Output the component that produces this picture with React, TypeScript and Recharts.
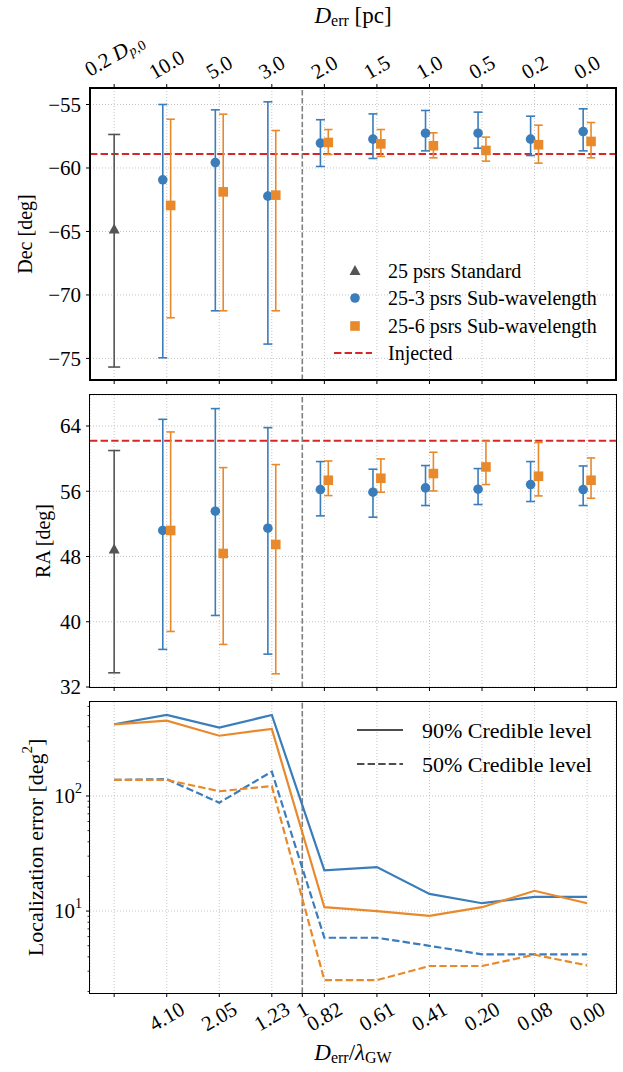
import React from 'react'
import {
  CartesianGrid,
  ComposedChart,
  ErrorBar,
  Legend,
  Line,
  ReferenceLine,
  Scatter,
  XAxis,
  YAxis,
} from 'recharts'

const FONT = '"Liberation Serif", "Times New Roman", serif'
const BLUE = '#3a7dba'
const ORANGE = '#e8892b'
const GRAY = '#555555'
const RED = '#d62728'
const GRID = '#b8b8b8'
const FS_TICK = 21

// x positions / tick labels
const xTicks = [0, 1, 2, 3, 4, 5, 6, 7, 8, 9]
const xDomain: [number, number] = [-0.46, 9.55]
const topTickLabels = ['0.2 D_{p,0}', '10.0', '5.0', '3.0', '2.0', '1.5', '1.0', '0.5', '0.2', '0.0']
const bottomTickLabels = ['', '4.10', '2.05', '1.23', '0.82', '0.61', '0.41', '0.20', '0.08', '0.00']
const boundaryX = 3.58
const boundaryLabel = '1'

// Dec panel (x = 0 standard, x = 1..9 sub-wavelength)
const injectedDec = -58.9
const stdDec = -64.84
const stdDecLo = -75.68
const stdDecHi = -57.36
const blueDec = [-60.93, -59.57, -62.22, -58.04, -57.73, -57.26, -57.26, -57.73, -57.13]
const blueDecHi = [-55.0, -55.42, -54.79, -56.2, -55.74, -55.47, -55.6, -55.92, -55.34]
const blueDecLo = [-74.95, -71.25, -73.87, -59.88, -59.25, -58.65, -58.44, -59.02, -58.65]
const orangeDec = [-62.95, -61.88, -62.14, -57.99, -58.1, -58.25, -58.62, -58.17, -57.91]
const orangeDecHi = [-56.16, -55.76, -57.05, -56.97, -56.97, -57.23, -57.57, -56.63, -56.42]
const orangeDecLo = [-71.8, -71.25, -71.25, -58.94, -59.09, -59.2, -59.46, -59.62, -59.2]
const decTicks = [-75, -70, -65, -60, -55]

// RA panel
const injectedRa = 62.2
const stdRa = 48.86
const stdRaLo = 33.74
const stdRaHi = 60.99
const blueRa = [51.19, 53.55, 51.47, 56.21, 55.88, 56.41, 56.25, 56.82, 56.21]
const blueRaHi = [64.82, 66.13, 63.8, 59.64, 58.7, 59.15, 58.78, 59.64, 59.1]
const blueRaLo = [36.61, 40.77, 36.03, 52.98, 52.82, 54.25, 54.37, 54.74, 54.25]
const orangeRa = [51.19, 48.37, 49.47, 57.35, 57.59, 58.17, 58.98, 57.84, 57.35]
const orangeRaHi = [63.27, 58.9, 59.27, 59.71, 59.96, 60.78, 62.13, 61.97, 60.08]
const orangeRaLo = [38.81, 37.22, 33.62, 55.47, 55.88, 56.04, 56.82, 55.43, 55.14]
const raTicks = [32, 40, 48, 56, 64]

// localization error [deg^2], x = 0..9
const blue90 = [420, 506, 393, 506, 22.6, 24.1, 14.1, 11.7, 13.3, 13.3]
const orange90 = [420, 452, 334, 383, 10.8, 10.0, 9.1, 10.8, 15.0, 11.7]
const blue50 = [138, 140, 87.5, 163, 5.86, 5.86, 4.99, 4.2, 4.2, 4.2]
const orange50 = [138, 138, 110, 122, 2.51, 2.51, 3.33, 3.33, 4.17, 3.37]
const logTicks = [2, 3, 4, 5, 6, 7, 8, 9, 10, 20, 30, 40, 50, 60, 70, 80, 90, 100, 200, 300, 400, 500, 600]

const pt = (v: number, lo: number, hi: number, x: number) => ({ x, y: v, err: [v - lo, hi - v] })
const series = (vals: number[], lo: number[], hi: number[], off: number) =>
  vals.map((v, i) => pt(v, lo[i], hi[i], i + 1 + off))

const decStdData = [pt(stdDec, stdDecLo, stdDecHi, 0)]
const decBlueData = series(blueDec, blueDecLo, blueDecHi, -0.075)
const decOrangeData = series(orangeDec, orangeDecLo, orangeDecHi, 0.075)
const raStdData = [pt(stdRa, stdRaLo, stdRaHi, 0)]
const raBlueData = series(blueRa, blueRaLo, blueRaHi, -0.075)
const raOrangeData = series(orangeRa, orangeRaLo, orangeRaHi, 0.075)
const locRows = xTicks.map((x, i) => ({ x, b90: blue90[i], o90: orange90[i], b50: blue50[i], o50: orange50[i] }))

const minus = (v: number) => String(v).replace('-', '\u2212')

const estWidth = (s: string, fs: number) => {
  let w = 0
  for (const ch of s) w += ch === '.' || ch === ' ' ? 0.25 : 0.5
  return w * fs
}

const Circle = (p: any) => <circle cx={p.cx} cy={p.cy} r={4.8} fill={BLUE} />
const Square = (p: any) => <rect x={p.cx - 4.8} y={p.cy - 4.8} width={9.6} height={9.6} fill={ORANGE} />
const Tri = (p: any) => (
  <polygon points={`${p.cx},${p.cy - 6} ${p.cx - 5.5},${p.cy + 4} ${p.cx + 5.5},${p.cy + 4}`} fill={GRAY} />
)

const EmptyTick = () => <g />

function TopTick({ x, y, payload }: any) {
  const label = topTickLabels[payload.value] ?? ''
  const special = label.includes('D_')
  const w = special ? FS_TICK * 3.6 : estWidth(label, FS_TICK)
  const cy = y - (w * 0.5 + FS_TICK * 0.6) / 2
  return (
    <text x={x} y={cy} textAnchor="middle" dominantBaseline="central" fontSize={FS_TICK} fill="#000"
      transform={`rotate(-30 ${x} ${cy})`}>
      {special ? (
        <>
          <tspan>0.2 </tspan>
          <tspan fontStyle="italic">D</tspan>
          <tspan fontSize={14} dy={5} fontStyle="italic">p</tspan>
          <tspan fontSize={14}>,0</tspan>
        </>
      ) : label}
    </text>
  )
}

function BottomTick({ x, y, payload }: any) {
  const label = payload.value === boundaryX ? boundaryLabel : bottomTickLabels[payload.value] ?? ''
  if (!label) return <g />
  const w = estWidth(label, FS_TICK)
  const cy = y + (w * 0.5 + FS_TICK * 0.6) / 2
  return (
    <text x={x} y={cy} textAnchor="middle" dominantBaseline="central" fontSize={FS_TICK} fill="#000"
      transform={`rotate(-30 ${x} ${cy})`}>
      {label}
    </text>
  )
}

function LogTick({ x, y, payload }: any) {
  const v = payload.value
  const major = v === 10 || v === 100
  return (
    <g>
      <line x1={x - (major ? 4 : 2.5)} x2={x} y1={y} y2={y} stroke="#000" strokeWidth={major ? 1 : 0.8} />
      {major && (
        <text x={x - 8} y={y + 7} textAnchor="end" fontSize={FS_TICK} fill="#000">
          10<tspan fontSize={14} dy={-10}>{v === 10 ? 1 : 2}</tspan>
        </text>
      )}
    </g>
  )
}

const yLabel = (text: React.ReactNode, x: number, fs: number) => ({ viewBox }: any) => {
  const cy = viewBox.y + viewBox.height / 2
  return (
    <text x={x} y={cy} textAnchor="middle" dominantBaseline="central" fontSize={fs} fill="#000"
      transform={`rotate(-90 ${x} ${cy})`}>
      {text}
    </text>
  )
}

function DecLegend() {
  const rows = ['25 psrs Standard', '25-3 psrs Sub-wavelength', '25-6 psrs Sub-wavelength', 'Injected']
  const ys = [16, 43, 71, 98]
  return (
    <svg width={290} height={112} style={{ fontFamily: FONT, display: 'block' }}>
      <Tri cx={25} cy={ys[0]} />
      <Circle cx={25} cy={ys[1]} />
      <Square cx={25} cy={ys[2]} />
      <line x1={4} x2={42} y1={ys[3]} y2={ys[3]} stroke={RED} strokeWidth={2} strokeDasharray="7.4 3.2" />
      {rows.map((r, i) => (
        <text key={r} x={58} y={ys[i]} dominantBaseline="central" fontSize={20} fill="#000">{r}</text>
      ))}
    </svg>
  )
}

function LocLegend() {
  return (
    <svg width={275} height={75} style={{ fontFamily: FONT, display: 'block' }}>
      <line x1={17} x2={63} y1={25} y2={25} stroke="#4d4d4d" strokeWidth={2} />
      <line x1={17} x2={63} y1={59} y2={59} stroke="#4d4d4d" strokeWidth={2} strokeDasharray="7.4 3.2" />
      <text x={82} y={25} dominantBaseline="central" fontSize={22} fill="#000">90% Credible level</text>
      <text x={82} y={59} dominantBaseline="central" fontSize={22} fill="#000">50% Credible level</text>
    </svg>
  )
}

const tickStyle = { fontSize: FS_TICK, fill: '#000' }
const tickLine = { stroke: '#000' }

export default function App() {
  return (
    <div style={{ position: 'absolute', left: 0, top: 0, width: 623, height: 1072, background: '#fff', fontFamily: FONT }}>
      {/* Dec */}
      <div style={{ position: 'absolute', left: 0, top: 0 }}>
        <ComposedChart width={623} height={395} margin={{ top: 0, right: 7, bottom: 0, left: 0 }}>
          <CartesianGrid stroke={GRID} strokeDasharray="1 2" strokeWidth={0.8} />
          <XAxis type="number" dataKey="x" domain={xDomain} ticks={xTicks} interval={0} allowDataOverflow
            height={15} tick={EmptyTick} tickSize={4} tickLine={tickLine} axisLine={false} />
          <XAxis xAxisId="top" orientation="top" type="number" dataKey="x" domain={xDomain} ticks={xTicks}
            interval={0} allowDataOverflow height={88} tick={TopTick} tickSize={4} tickMargin={4}
            tickLine={tickLine} axisLine={false}
            label={{
              content: ({ viewBox }: any) => (
                <text x={viewBox.x + viewBox.width / 2} y={15} textAnchor="middle" dominantBaseline="central" fontSize={23} fill="#000">
                  <tspan fontStyle="italic">D</tspan>
                  <tspan fontSize={16} dy={5}>err</tspan>
                  <tspan dy={-5}> [pc]</tspan>
                </text>
              ),
            }} />
          <YAxis type="number" domain={[-76.7, -53.7]} ticks={decTicks} interval={0} allowDataOverflow width={90}
            tick={tickStyle} tickFormatter={minus} tickSize={4} tickMargin={5} tickLine={tickLine} axisLine={false}
            label={{ content: yLabel('Dec [deg]', 25, 20) }} />
          <ReferenceLine y={injectedDec} stroke={RED} strokeWidth={2} strokeDasharray="7.4 3.2" />
          <ReferenceLine x={boundaryX} stroke="#808080" strokeWidth={1.6} strokeDasharray="5.5 2.4" />
          <Scatter xAxisId="top" data={decStdData} dataKey="y" shape={Tri} isAnimationActive={false}>
            <ErrorBar dataKey="err" direction="y" width={6} stroke={GRAY} strokeWidth={1.6} />
          </Scatter>
          <Scatter data={decBlueData} dataKey="y" shape={Circle} isAnimationActive={false}>
            <ErrorBar dataKey="err" direction="y" width={4.5} stroke={BLUE} strokeWidth={1.6} />
          </Scatter>
          <Scatter data={decOrangeData} dataKey="y" shape={Square} isAnimationActive={false}>
            <ErrorBar dataKey="err" direction="y" width={4.2} stroke={ORANGE} strokeWidth={1.6} />
          </Scatter>
          <Legend layout="vertical" align="center" verticalAlign="middle" content={() => <DecLegend />}
            wrapperStyle={{ left: 330, top: 255, width: 290, height: 112 }} />
        </ComposedChart>
      </div>

      {/* RA */}
      <div style={{ position: 'absolute', left: 0, top: 390 }}>
        <ComposedChart width={623} height={320} margin={{ top: 5, right: 7, bottom: 13, left: 0 }}>
          <CartesianGrid stroke={GRID} strokeDasharray="1 2" strokeWidth={0.8} />
          <XAxis type="number" dataKey="x" domain={xDomain} ticks={xTicks} interval={0} allowDataOverflow
            height={10} tick={EmptyTick} tickSize={4} tickLine={tickLine} axisLine={false} />
          <YAxis type="number" domain={[32, 67.8]} ticks={raTicks} interval={0} allowDataOverflow width={90}
            tick={tickStyle} tickSize={4} tickMargin={5} tickLine={tickLine} axisLine={false}
            label={{ content: yLabel('RA [deg]', 43, 20) }} />
          <ReferenceLine y={injectedRa} stroke={RED} strokeWidth={2} strokeDasharray="7.4 3.2" />
          <ReferenceLine x={boundaryX} stroke="#808080" strokeWidth={1.6} strokeDasharray="5.5 2.4" />
          <Scatter data={raStdData} dataKey="y" shape={Tri} isAnimationActive={false}>
            <ErrorBar dataKey="err" direction="y" width={6} stroke={GRAY} strokeWidth={1.6} />
          </Scatter>
          <Scatter data={raBlueData} dataKey="y" shape={Circle} isAnimationActive={false}>
            <ErrorBar dataKey="err" direction="y" width={4.5} stroke={BLUE} strokeWidth={1.6} />
          </Scatter>
          <Scatter data={raOrangeData} dataKey="y" shape={Square} isAnimationActive={false}>
            <ErrorBar dataKey="err" direction="y" width={4.2} stroke={ORANGE} strokeWidth={1.6} />
          </Scatter>
        </ComposedChart>
      </div>

      {/* Localization error */}
      <div style={{ position: 'absolute', left: 0, top: 697 }}>
        <ComposedChart width={623} height={375} data={locRows} margin={{ top: 5, right: 7, bottom: 0, left: 0 }}>
          <CartesianGrid horizontal={false} stroke={GRID} strokeDasharray="1 2" strokeWidth={0.8} />
          <XAxis type="number" dataKey="x" domain={xDomain} ticks={[...xTicks.slice(0, 4), boundaryX, ...xTicks.slice(4)]}
            interval={0} allowDataOverflow height={79} tick={BottomTick} tickSize={4} tickMargin={4}
            tickLine={tickLine} axisLine={false}
            label={{
              content: ({ viewBox }: any) => (
                <text x={viewBox.x + viewBox.width / 2} y={355} textAnchor="middle" dominantBaseline="central" fontSize={23} fill="#000">
                  <tspan fontStyle="italic">D</tspan>
                  <tspan fontSize={16} dy={5}>err</tspan>
                  <tspan dy={-5}>/</tspan>
                  <tspan fontStyle="italic">λ</tspan>
                  <tspan fontSize={16} dy={5}>GW</tspan>
                </text>
              ),
            }} />
          <YAxis type="number" scale="log" domain={[1.94, 656]} ticks={logTicks} interval={0} allowDataOverflow
            width={90} tick={LogTick} tickSize={0} tickMargin={0} tickLine={false} axisLine={false}
            label={{
              content: yLabel(
                <>
                  Localization error [deg<tspan fontSize={15} dy={-8}>2</tspan><tspan dy={8}>]</tspan>
                </>,
                35,
                22,
              ),
            }} />
          <ReferenceLine y={10} stroke={GRID} strokeDasharray="1 2" strokeWidth={0.8} />
          <ReferenceLine y={100} stroke={GRID} strokeDasharray="1 2" strokeWidth={0.8} />
          <ReferenceLine x={boundaryX} stroke="#808080" strokeWidth={1.6} strokeDasharray="5.5 2.4" />
          <Line dataKey="b90" stroke={BLUE} strokeWidth={2.2} dot={false} isAnimationActive={false} />
          <Line dataKey="o90" stroke={ORANGE} strokeWidth={2.2} dot={false} isAnimationActive={false} />
          <Line dataKey="b50" stroke={BLUE} strokeWidth={2.2} strokeDasharray="7.4 3.2" dot={false} isAnimationActive={false} />
          <Line dataKey="o50" stroke={ORANGE} strokeWidth={2.2} strokeDasharray="7.4 3.2" dot={false} isAnimationActive={false} />
          <Legend layout="vertical" align="center" verticalAlign="middle" content={() => <LocLegend />}
            wrapperStyle={{ left: 340, top: 8, width: 275, height: 75 }} />
        </ComposedChart>
      </div>

      {/* panel frames */}
      {[
        { top: 88, h: 292, bw: 2 },
        { top: 395, h: 292, bw: 1.5 },
        { top: 702, h: 291, bw: 1.5 },
      ].map((f) => (
        <div key={f.top} style={{
          position: 'absolute', left: 90 - f.bw / 2, top: f.top - f.bw / 2, width: 526 + f.bw, height: f.h + f.bw,
          border: `${f.bw}px solid #000`, boxSizing: 'border-box', pointerEvents: 'none',
        }} />
      ))}
    </div>
  )
}
